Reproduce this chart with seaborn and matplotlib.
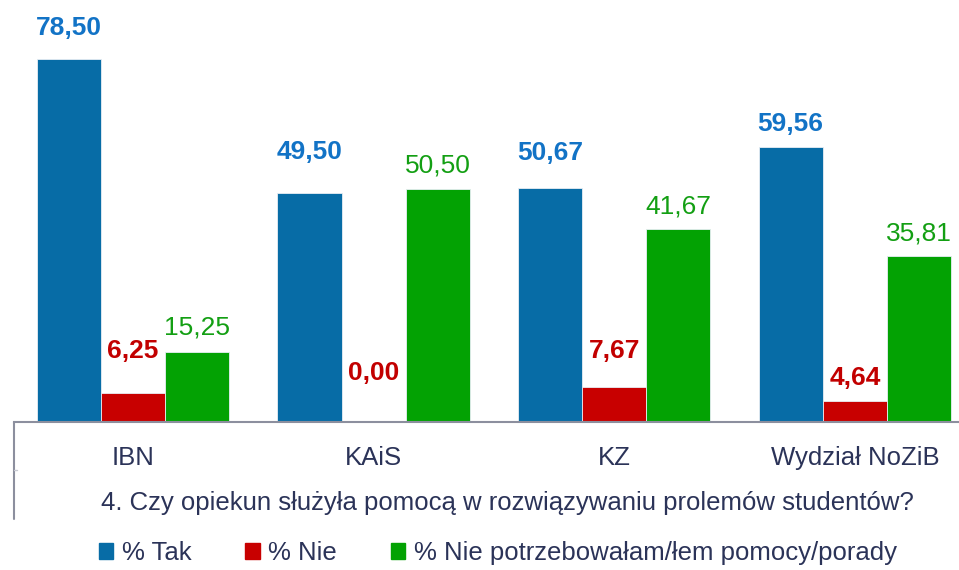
import pandas as pd
import matplotlib.pyplot as plt
import matplotlib.lines as mlines
import matplotlib.patches as mpatches
import seaborn as sns

# --- data ---
categories = ["IBN", "KAiS", "KZ", "Wydział NoZiB"]
series = ["% Tak", "% Nie", "% Nie potrzebowałam/łem pomocy/porady"]
tak = [78.50, 49.50, 50.67, 59.56]
nie = [6.25, 0.00, 7.67, 4.64]
nie_potrz = [15.25, 50.50, 41.67, 35.81]
title = "4. Czy opiekun służyła pomocą w rozwiązywaniu prolemów studentów?"

bar_colors = ["#076ca6", "#c80000", "#03a203"]
label_colors = ["#1273c6", "#c20000", "#139f13"]
label_weights = ["bold", "bold", "normal"]
# gap (px) between bar top and label baseline, as placed in the original
label_gaps = [[24, 34, 28, 16], [35, 42, 29, 16], [17, 16, 16, 16]]
text_color = "#2b3358"

df = pd.DataFrame({
    "kategoria": categories * 3,
    "seria": [s for s in series for _ in categories],
    "wartosc": tak + nie + nie_potrz,
})

sns.set_theme(style="white")
plt.rcParams["font.family"] = ["Liberation Sans", "DejaVu Sans"]

fig = plt.figure(figsize=(9.59, 5.70), dpi=100)
W, H = 959, 570
ax = fig.add_axes([14 / W, (H - 422) / H, 945 / W, 422 / H])

sns.barplot(data=df, x="kategoria", y="wartosc", hue="seria",
            palette=bar_colors, saturation=1, width=0.8, gap=0, ax=ax,
            edgecolor="#e8eef4", linewidth=0.6, legend=False)

ax.set_xlim(-0.495, 3.433)
ax.set_ylim(0, 91.3)
ax.set_xlabel("")
ax.set_ylabel("")
ax.set_yticks([])
ax.tick_params(axis="x", length=0, pad=17, labelsize=18.5, labelcolor=text_color)
for s in ["top", "right", "left"]:
    ax.spines[s].set_visible(False)
ax.spines["bottom"].set_color("#8c8f9e")
ax.spines["bottom"].set_linewidth(1.5)

# value labels
for si, container in enumerate(ax.containers):
    for ci, bar in enumerate(container):
        val = bar.get_height()
        ax.annotate(f"{val:.2f}".replace(".", ","),
                    xy=(bar.get_x() + bar.get_width() / 2, val),
                    xytext=(0, label_gaps[si][ci] * 0.72), textcoords="offset points",
                    ha="center", va="baseline", fontsize=19,
                    color=label_colors[si], fontweight=label_weights[si])

# left border of the category area below the axis
fig.add_artist(mlines.Line2D([14 / W, 14 / W], [(H - 422) / H, (H - 519) / H],
                             color="#8c8f9e", lw=1.5))
fig.add_artist(mlines.Line2D([14 / W, 17 / W], [(H - 470) / H, (H - 470) / H],
                             color="#c8cad2", lw=1))

fig.text(507 / W, (H - 503) / H, title, ha="center", va="center",
         fontsize=18.5, color=text_color)

handles = [mpatches.Patch(color=c, label=s) for c, s in zip(bar_colors, series)]
fig.legend(handles=handles, loc="center", bbox_to_anchor=(498 / W, (H - 553) / H),
           ncol=3, frameon=False, fontsize=18.5, labelcolor=text_color,
           handlelength=0.55, handleheight=0.55, handletextpad=0.35, columnspacing=2.1)

fig.savefig("out.png", dpi=100)
